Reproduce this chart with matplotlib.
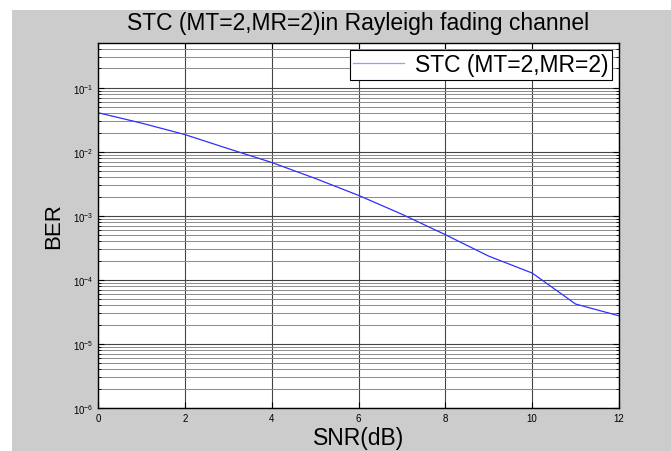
import numpy as np
import matplotlib.pyplot as plt
from matplotlib.patches import Rectangle

snr = [0, 1, 2, 3, 4, 5, 6, 7, 8, 9, 10, 11, 12]
ber = [0.0408, 0.0281, 0.0186, 0.0112, 0.00682, 0.00385, 0.00209,
       0.00106, 5.08e-4, 2.35e-4, 1.28e-4, 4.2e-5, 2.75e-5]

plt.rcParams['font.family'] = ['Liberation Sans', 'DejaVu Sans']

fig = plt.figure(figsize=(6.71, 4.52), dpi=100, facecolor='white')
# grey matlab figure background, thin white strip top and left
fig.patches.append(Rectangle((12/671, 0), 1, 1 - 11/452, transform=fig.transFigure,
                             facecolor='#cccccc', edgecolor='none', zorder=-1))

ax = fig.add_axes([98/671, 1 - 409/452, (619 - 98)/671, (409 - 44)/452])
ax.set_facecolor('white')
ax.semilogy(snr, ber, color='#2f2fff', lw=0.9, label='STC (MT=2,MR=2)')
ax.set_xlim(0, 12)
ax.set_ylim(1e-6, 0.5)
ax.set_xticks(range(0, 13, 2))

ax.grid(True, which='major', color='#444444', lw=0.8)
ax.grid(True, which='minor', axis='y', color='#8a8a8a', lw=0.7)
ax.tick_params(which='both', direction='in', top=True, right=True, labelsize=7)
ax.tick_params(which='major', length=4)
ax.tick_params(which='minor', length=2)
for s in ax.spines.values():
    s.set_linewidth(1.0)

ax.set_title('STC (MT=2,MR=2)in Rayleigh fading channel', fontsize=16.5, pad=10)
ax.set_xlabel('SNR(dB)', fontsize=16.5, labelpad=2)
ax.set_ylabel('BER', fontsize=16, labelpad=6)

leg = ax.legend(loc='upper right', fontsize=16.5, fancybox=False, framealpha=1,
                edgecolor='black', borderaxespad=0.3, handlelength=2.2,
                handletextpad=0.5, borderpad=0.15)
leg.get_frame().set_linewidth(0.8)
leg.get_lines()[0].set_color('#9a9aff')

fig.savefig('out.png', dpi=100)
